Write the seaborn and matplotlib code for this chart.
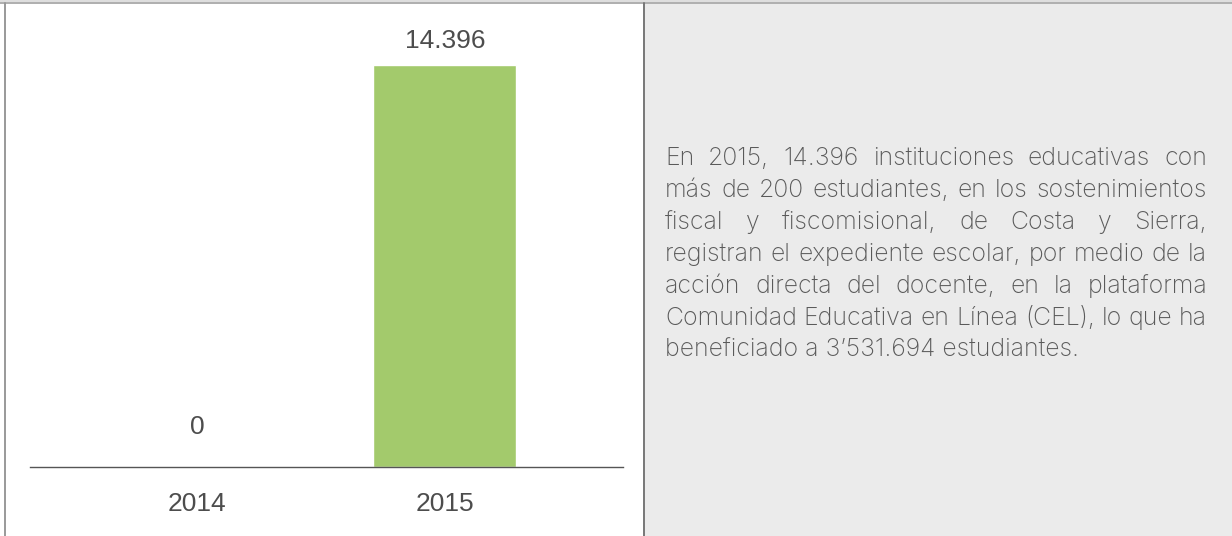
import pandas as pd
import seaborn as sns
import matplotlib.pyplot as plt
from matplotlib.patches import Rectangle
from matplotlib.lines import Line2D

# data
years = ["2014", "2015"]
instituciones = [0, 14396]
value_labels = ["0", "14.396"]
parrafo = [
    "En 2015, 14.396 instituciones educativas con",
    "más de 200 estudiantes, en los sostenimientos",
    "fiscal y fiscomisional, de Costa y Sierra,",
    "registran el expediente escolar, por medio de la",
    "acción directa del docente, en la plataforma",
    "Comunidad Educativa en Línea (CEL), lo que ha",
    "beneficiado a 3’531.694 estudiantes.",
]

sns.set_theme(style="white")
plt.rcParams['font.family'] = ['Liberation Sans', 'DejaVu Sans']

W, H = 1232, 536
GREEN = "#a3ca6c"
TEXT = "#555555"


def fx(px):
    return px / W


def fy(py):
    return 1 - py / H


fig = plt.figure(figsize=(W / 100, H / 100), dpi=100)
fig.patch.set_facecolor("white")

# right grey panel and frame lines
fig.patches.append(Rectangle((fx(645), 0), 1 - fx(645), fy(4), transform=fig.transFigure,
                             facecolor="#ebebeb", edgecolor="none", zorder=0))
fig.patches.append(Rectangle((0, fy(2)), 1, fy(0) - fy(2), transform=fig.transFigure,
                             facecolor="#dedede", edgecolor="none", zorder=0))
fig.lines.append(Line2D([0, 1], [fy(3), fy(3)], transform=fig.transFigure, color="#999999", lw=1.1))
fig.lines.append(Line2D([fx(5), fx(5)], [0, fy(3)], transform=fig.transFigure, color="#999999", lw=1.4))
fig.lines.append(Line2D([fx(644), fx(644)], [0, fy(3)], transform=fig.transFigure, color="#777777", lw=1.4))

# bar chart
ax = fig.add_axes([fx(30), fy(467), fx(623) - fx(30), fy(10) - fy(467)])
ax.set_facecolor("none")
df = pd.DataFrame({"year": years, "n": instituciones})
sns.barplot(data=df, x="year", y="n", color=GREEN, saturation=1, width=0.577, ax=ax)
ax.set_xlim(-0.673, 1.718)
ax.set_ylim(0, 14396 * 457 / 402)
ax.set_xlabel("")
ax.set_ylabel("")
ax.set_yticks([])
for side in ["top", "right", "left"]:
    ax.spines[side].set_visible(False)
ax.spines["bottom"].set_color(TEXT)
ax.spines["bottom"].set_linewidth(1.0)
ax.tick_params(axis="x", length=0, pad=18, labelsize=19, labelcolor="#4d4d4d")

for i, (v, lab) in enumerate(zip(instituciones, value_labels)):
    off = 17 if v > 0 else 29
    ax.annotate(lab, (i, v), xytext=(0, off), textcoords="offset points",
                ha="center", va="center", fontsize=19, color="#4d4d4d")

# justified paragraph
renderer = fig.canvas.get_renderer()
left, right = 665, 1207
fs = 17.9
for i, line in enumerate(parrafo):
    y = fy(165 + 32 * i)
    kw = dict(fontsize=fs, color="#5a5a5a", family=["Inter", "DejaVu Sans"],
              fontweight="light", va="baseline", ha="left")
    if i == len(parrafo) - 1:
        fig.text(fx(left), y, line, **kw)
        continue
    words = line.split()
    widths = []
    for w in words:
        t = fig.text(0, 0, w, **kw)
        widths.append(t.get_window_extent(renderer).width)
        t.remove()
    gap = (right - left - sum(widths)) / (len(words) - 1)
    x = left
    for w, wd in zip(words, widths):
        fig.text(fx(x), y, w, **kw)
        x += wd + gap

fig.savefig("out.png", dpi=100)
